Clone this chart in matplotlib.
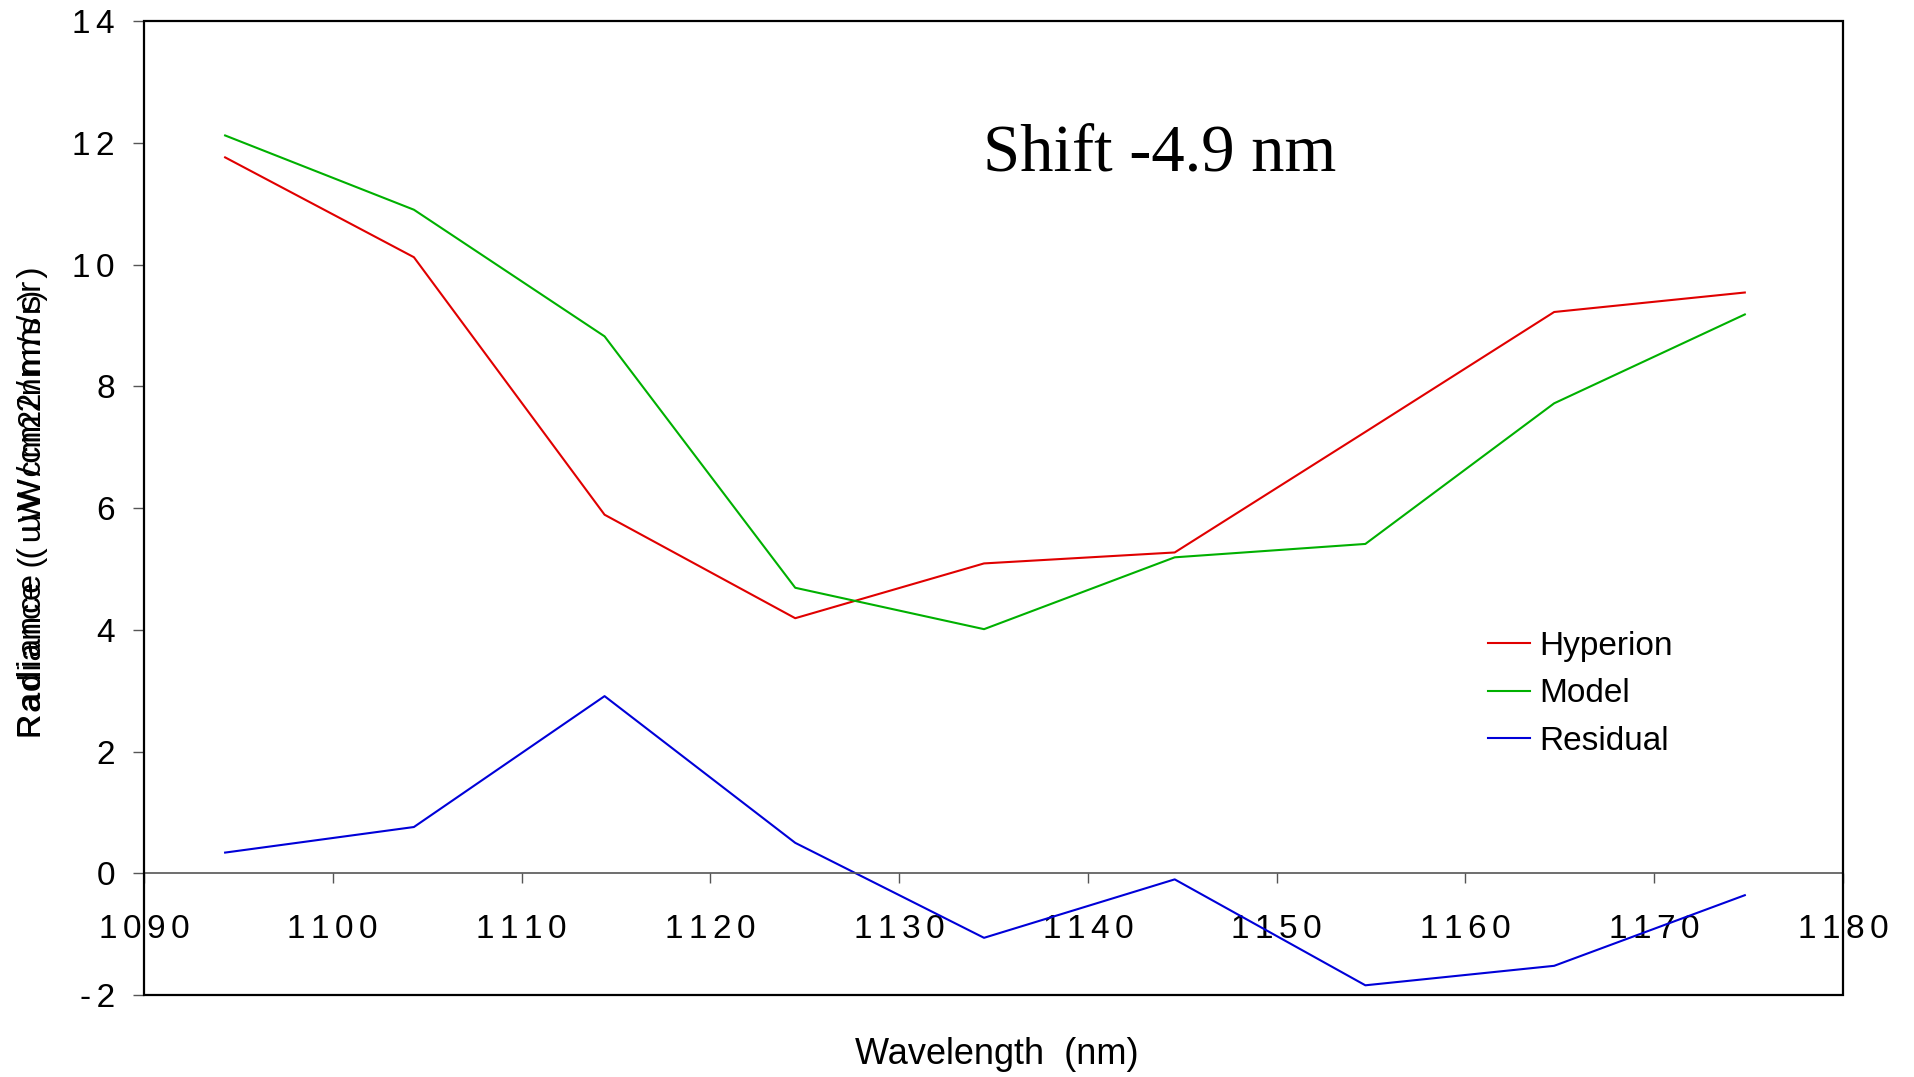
import matplotlib
matplotlib.use("Agg")
import matplotlib.pyplot as plt
from matplotlib.patches import Rectangle
from matplotlib.ticker import FuncFormatter, MultipleLocator

plt.rcParams['font.family'] = ['Liberation Sans', 'DejaVu Sans']

# wavelength of each band (nm)
wavelength = [1094.3, 1104.3, 1114.4, 1124.5, 1134.5, 1144.6, 1154.7, 1164.7, 1174.8]
hyperion = [11.76, 10.12, 5.89, 4.19, 5.09, 5.27, 7.25, 9.22, 9.54]
model = [12.12, 10.90, 8.82, 4.69, 4.01, 5.19, 5.41, 7.72, 9.18]
residual = [0.34, 0.76, 2.91, 0.50, -1.06, -0.10, -1.84, -1.52, -0.36]

SP = '\u2006'    # six-per-em space between tick digits
HAIR = '\u200a'


def spaced(v, pos):
    return SP.join(f'{v:.0f}')


fig = plt.figure(figsize=(19.14, 10.77), dpi=100)
ax = fig.add_axes([0.0752, 0.0761, 0.8877, 0.9044])

ax.plot(wavelength, hyperion, color='#E00000', lw=1.5, label='Hyperion')
ax.plot(wavelength, model, color='#00B000', lw=1.5, label='Model')
ax.plot(wavelength, residual, color='#0000D8', lw=1.5, label='Residual')

ax.set_xlim(1090, 1180)
ax.set_ylim(-2, 14)
ax.xaxis.set_major_locator(MultipleLocator(10))
ax.yaxis.set_major_locator(MultipleLocator(2))
ax.xaxis.set_major_formatter(FuncFormatter(spaced))
ax.yaxis.set_major_formatter(FuncFormatter(spaced))

# category axis crosses at zero, outer frame drawn separately
for s in ['top', 'right', 'left']:
    ax.spines[s].set_visible(False)
ax.spines['bottom'].set_position(('data', 0))
ax.spines['bottom'].set_color('#555555')
ax.spines['bottom'].set_linewidth(1.2)
ax.add_patch(Rectangle((0, 0), 1, 1, transform=ax.transAxes, fill=False,
                       edgecolor='black', lw=1.6, clip_on=False, zorder=5))

ax.tick_params(axis='x', direction='out', length=7, width=1, color='#555555',
               labelsize=24, pad=22)
ax.tick_params(axis='y', direction='out', length=8, width=1, color='#555555',
               labelsize=24, pad=13)

ax.text(1143.8, 11.54, 'Shift -4.9 nm', family='Liberation Serif', fontsize=48,
        ha='center', va='baseline')

ax.legend(loc='upper left', bbox_to_anchor=(0.791, 0.374), frameon=False,
          fontsize=24, handlelength=1.26, handletextpad=0.27,
          labelspacing=0.5, borderpad=0, borderaxespad=0)

# y label printed twice with slightly different sizes
ylab = HAIR.join('Radiance ( uW/cm2/nm/sr)')
fig.text(0.0172, 0.315, ylab, rotation=90, fontsize=24.5,
         ha='center', va='bottom')
fig.text(0.0172, 0.315, ylab, rotation=90, fontsize=23.3,
         ha='center', va='bottom')
fig.text(0.521, 0.021, 'Wavelength  (nm)', fontsize=26,
         ha='center', va='center')

fig.savefig('out.png', dpi=100)
